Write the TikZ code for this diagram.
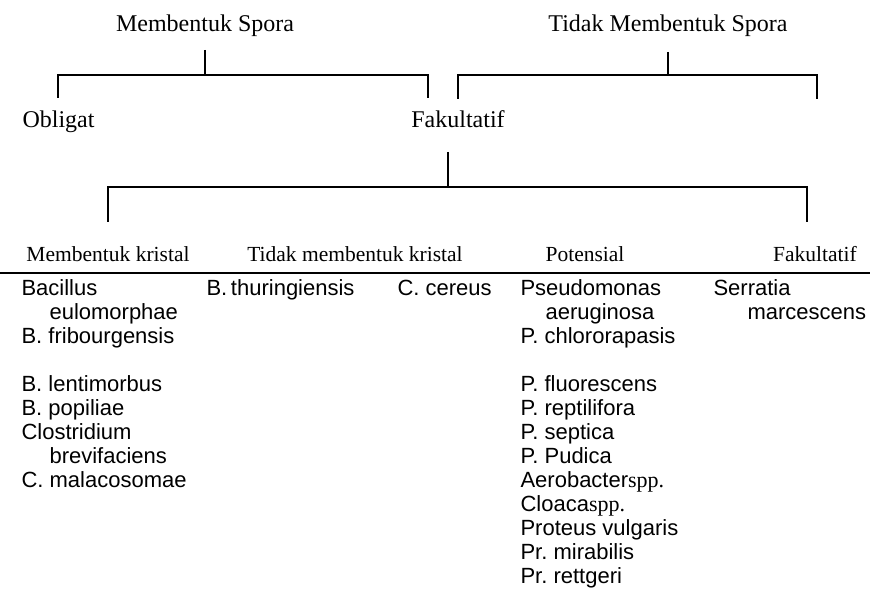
\documentclass[tikz,border=0pt]{standalone}
\usepackage{fontspec}
\setmainfont{Liberation Serif}
\newfontfamily\listfont{Liberation Sans}
\frenchspacing
\begin{document}
\begin{tikzpicture}[x=1pt, y=-1pt, line width=1.1pt,
	head/.style = {font=\fontsize{24}{28}\selectfont, anchor=base, inner sep=0pt},
	sub/.style = {font=\fontsize{21.5}{26}\selectfont, anchor=base, inner sep=0pt},
	item/.style = {font=\listfont\fontsize{22}{24}\selectfont, anchor=base west, inner sep=0pt}]

		\useasboundingbox (0,0) rectangle (870,599);

		% spora
		\node[head] (ms) at (205,32) {Membentuk Spora};
		\node[head] (tms) at (668,32) {Tidak Membentuk Spora};
		\node[head, anchor=base west] (obl) at (22,128) {Obligat};
		\node[head] (fak) at (458,128) {Fakultatif};

		% kristal
		\node[sub] (mk) at (108,261) {Membentuk kristal};
		\node[sub] (tmk) at (355,261) {Tidak membentuk kristal};
		\node[sub] (pot) at (585,261) {Potensial};
		\node[sub] (fak2) at (815,261) {Fakultatif};

		\coordinate (msT) at (205,50);
		\coordinate (msL) at (58,98);
		\coordinate (msR) at (428,98);
		\coordinate (tmsT) at (668,52);
		\coordinate (tmsL) at (458,99);
		\coordinate (tmsR) at (817,99);
		\coordinate (fakT) at (448,152);
		\coordinate (mkT) at (108,222);
		\coordinate (fak2T) at (807,222);
		\coordinate (ruleL) at (0,273);
		\coordinate (ruleR) at (870,273);

		\draw (msT) -- ++(0,25) -| (msL);
		\draw (msT) ++(0,25) -| (msR);
		\draw (tmsT) -- ++(0,23) -| (tmsL);
		\draw (tmsT) ++(0,23) -| (tmsR);
		\draw (fakT) -- ++(0,35) -| (mkT);
		\draw (fakT) ++(0,35) -| (fak2T);
		\draw[line width=2pt] (ruleL) -- (ruleR);

		% membentuk kristal
		\node[item] (b1) at (21,295) {Bacillus};
		\node[item] (b2) at (49,319) {eulomorphae};
		\node[item] (b3) at (21,343) {B. fribourgensis};
		\node[item] (b4) at (21,391) {B. lentimorbus};
		\node[item] (b5) at (21,415) {B. popiliae};
		\node[item] (b6) at (21,439) {Clostridium};
		\node[item] (b7) at (49,463) {brevifaciens};
		\node[item] (b8) at (21,487) {C. malacosomae};

		% tidak membentuk kristal
		\node[item] (t1) at (206,295) {B.\,thuringiensis};
		\node[item] (t2) at (397,295) {C. cereus};

		% potensial
		\node[item] (p1) at (520,295) {Pseudomonas};
		\node[item] (p2) at (545,319) {aeruginosa};
		\node[item] (p3) at (520,343) {P. chlororapasis};
		\node[item] (p4) at (520,391) {P. fluorescens};
		\node[item] (p5) at (520,415) {P. reptilifora};
		\node[item] (p6) at (520,439) {P. septica};
		\node[item] (p7) at (520,463) {P. Pudica};
		\node[item] (p8) at (520,487) {Aerobacter{\rmfamily spp.}};
		\node[item] (p9) at (520,511) {Cloaca{\rmfamily spp.}};
		\node[item] (p10) at (520,535) {Proteus vulgaris};
		\node[item] (p11) at (520,559) {Pr. mirabilis};
		\node[item] (p12) at (520,583) {Pr. rettgeri};

		% fakultatif
		\node[item] (f1) at (713,295) {Serratia};
		\node[item] (f2) at (747,319) {marcescens};
	\end{tikzpicture}
\end{document}
